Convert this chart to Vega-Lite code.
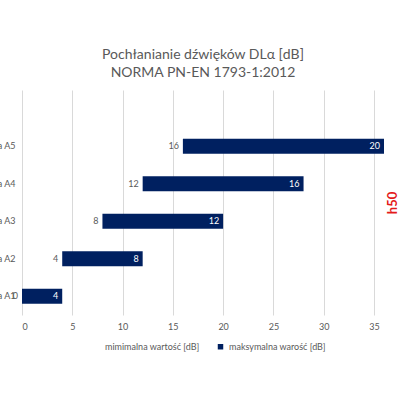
{
  "$schema": "https://vega.github.io/schema/vega-lite/v6.json",
  "width": 362,
  "height": 225,
  "autosize": "none",
  "padding": {"left": 22, "top": 90, "right": 16, "bottom": 85},
  "background": "white",
  "config": {"view": {"stroke": null}, "font": "Lato"},
  "title": {
    "text": ["Pochłanianie  dźwięków  DLα [dB]", "NORMA PN-EN 1793-1:2012"],
    "fontSize": 14,
    "fontWeight": "normal",
    "color": "#595959",
    "lineHeight": 18,
    "offset": 10,
    "anchor": "middle"
  },
  "data": {
    "values": [
      {"klasa": "Klasa A1", "seria": "mimimalna wartość [dB]", "wartosc": 0},
      {"klasa": "Klasa A1", "seria": "maksymalna warość [dB]", "wartosc": 4},
      {"klasa": "Klasa A2", "seria": "mimimalna wartość [dB]", "wartosc": 4},
      {"klasa": "Klasa A2", "seria": "maksymalna warość [dB]", "wartosc": 8},
      {"klasa": "Klasa A3", "seria": "mimimalna wartość [dB]", "wartosc": 8},
      {"klasa": "Klasa A3", "seria": "maksymalna warość [dB]", "wartosc": 12},
      {"klasa": "Klasa A4", "seria": "mimimalna wartość [dB]", "wartosc": 12},
      {"klasa": "Klasa A4", "seria": "maksymalna warość [dB]", "wartosc": 16},
      {"klasa": "Klasa A5", "seria": "mimimalna wartość [dB]", "wartosc": 16},
      {"klasa": "Klasa A5", "seria": "maksymalna warość [dB]", "wartosc": 20}
    ]
  },
  "resolve": {"axis": {"y": "independent"}},
  "layer": [
    {
      "mark": {"type": "bar"},
      "encoding": {
        "y": {
          "field": "klasa",
          "type": "nominal",
          "scale": {
            "domain": [" ", "Klasa A5", "Klasa A4", "Klasa A3", "Klasa A2", "Klasa A1"],
            "paddingInner": 0.6,
            "paddingOuter": 0.3
          },
          "axis": {
            "title": null,
            "domain": false,
            "ticks": false,
            "labelColor": "#595959",
            "labelFontSize": 9,
            "labelPadding": 7
          }
        },
        "x": {
          "field": "wartosc",
          "type": "quantitative",
          "stack": "zero",
          "scale": {"domain": [0, 36], "nice": false},
          "axis": {
            "title": null,
            "values": [0, 5, 10, 15, 20, 25, 30, 35],
            "grid": true,
            "gridColor": "#d9d9d9",
            "domain": false,
            "ticks": false,
            "labelColor": "#595959",
            "labelFontSize": 9,
            "labelPadding": 7
          }
        },
        "color": {
          "field": "seria",
          "type": "nominal",
          "scale": {
            "domain": ["mimimalna wartość [dB]", "maksymalna warość [dB]"],
            "range": ["transparent", "#002060"]
          },
          "legend": {
            "title": null,
            "orient": "none",
            "legendX": 70,
            "legendY": 252,
            "direction": "horizontal",
            "symbolType": "square",
            "symbolSize": 30,
            "labelColor": "#595959",
            "labelFontSize": 9,
            "columnPadding": 16
          }
        },
        "order": {"field": "seria", "sort": "descending"}
      }
    },
    {
      "mark": {"type": "text", "align": "right", "baseline": "middle", "dx": -4, "fontSize": 9},
      "encoding": {
        "y": {
          "field": "klasa",
          "type": "nominal",
          "axis": {
            "orient": "right",
            "labels": false,
            "ticks": false,
            "domain": false,
            "grid": false,
            "title": "h50",
            "titleColor": "#e41b1b",
            "titleFontWeight": "bold",
            "titleFontSize": 13,
            "titleAngle": 270,
            "titlePadding": 15
          }
        },
        "x": {"field": "wartosc", "type": "quantitative", "stack": "zero"},
        "detail": {"field": "seria"},
        "order": {"field": "seria", "sort": "descending"},
        "text": {"field": "wartosc", "type": "quantitative"},
        "color": {
          "condition": {"test": "datum.seria == 'maksymalna warość [dB]'", "value": "white"},
          "value": "#595959"
        }
      }
    }
  ]
}
